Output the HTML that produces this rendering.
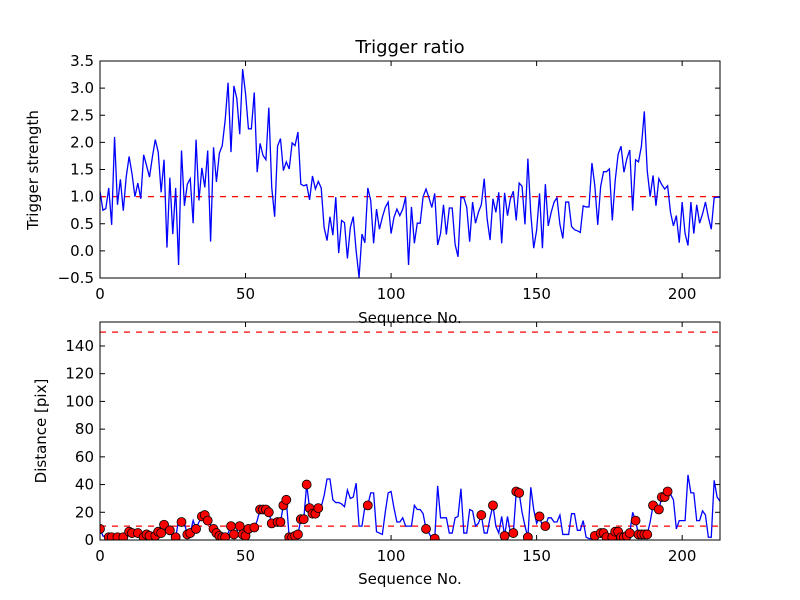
<!DOCTYPE html>
<html><head><meta charset="utf-8"><style>
body{margin:0;background:#fff}
svg{display:block;font-family:"DejaVu Sans","Liberation Sans",sans-serif}
</style></head><body>
<svg id="chart" width="800" height="600" viewBox="0 0 800 600"></svg>
<script>
const trigger = [1.1,0.75,0.78,1.16,0.48,2.1,0.85,1.32,0.74,1.36,1.74,1.42,1.0,1.25,0.96,1.77,1.57,1.36,1.73,2.05,1.82,1.08,1.68,0.06,1.35,0.31,1.16,-0.26,1.85,0.83,1.23,1.33,0.51,2.05,0.93,1.53,1.17,1.85,0.17,1.91,1.27,1.8,1.94,2.41,3.1,1.82,3.04,2.81,2.15,3.35,2.9,2.25,2.25,2.92,1.45,1.98,1.76,1.68,2.64,1.17,0.63,1.93,2.07,1.48,1.64,1.51,1.99,1.94,2.19,1.23,1.2,1.22,0.94,1.38,1.14,1.28,1.16,0.43,0.19,0.63,0.29,0.99,-0.04,0.56,0.52,-0.14,0.43,0.63,0.0,-0.49,0.31,0.15,1.16,0.93,0.14,0.77,0.4,0.62,0.8,0.9,0.32,0.62,0.77,0.65,0.77,0.99,-0.26,
0.81,0.14,0.51,0.51,1.0,1.14,0.98,0.8,1.06,0.11,0.32,0.85,0.3,0.79,0.79,0.12,-0.11,0.98,0.98,0.8,0.17,0.9,0.51,0.71,0.85,1.33,0.59,0.2,0.96,0.71,1.08,0.14,1.07,0.65,0.96,1.1,0.56,1.25,1.19,0.49,1.7,0.68,0.05,0.38,1.06,0.05,1.23,0.46,0.71,0.9,0.98,0.49,0.23,0.9,
0.9,0.45,0.39,0.37,0.34,0.83,0.81,0.81,1.62,1.2,0.48,1.19,1.46,1.46,1.51,0.56,1.3,1.78,1.93,1.45,1.7,1.86,0.74,1.68,1.64,1.93,2.57,1.48,1.0,1.39,0.83,1.33,1.22,1.14,1.2,0.71,0.46,0.65,0.15,0.9,0.32,0.1,0.9,0.32,0.85,0.51,0.68,0.9,0.62,0.4,0.98,0.99,0.99];
const distance = [8,3,2,2,2,2,2,2,2,3,6,5,4,5,3,2,4,3,2,3,6,5,11,9,7,5,2,14,13,12,4,5,14,8,13,17,18,14,11,8,5,3,2,2,5,10,4,6,10,4,3,8,9,9,14,22,22,22,20,12,13,13,13,25,29,2,2,3,4,15,15,40,23,19,19,23,24,32,44,44,29,27,27,26,24,36,30,31,41,10,10,24,25,34,34,6,5,4,20,34,35,23,13,13,16,10,10,10,25,22,22,19,8,5,1,1,39,16,16,16,5,5,16,17,37,5,5,22,21,10,12,18,5,5,16,25,10,5,17,3,17,5,5,35,34,20,10,2,38,22,12,17,10,10,16,16,13,13,18,4,4,4,19,19,7,7,14,2,1,1,3,4,5,5,2,2,2,6,6,2,2,3,5,20,14,4,4,4,4,13,25,24,22,31,31,35,33,29,8,14,14,14,47,34,34,14,14,21,18,2,2,43,31,28];
const markerIdx = [0,3,4,6,8,10,11,13,15,16,17,19,20,21,22,24,26,28,30,31,33,35,36,37,39,40,41,42,43,45,46,48,49,50,51,53,55,56,57,58,59,61,62,63,64,65,66,67,68,69,70,71,72,73,74,75,92,112,115,131,135,139,142,143,144,147,151,153,170,172,173,174,176,177,178,179,180,181,182,184,185,186,187,188,190,192,193,194,195];
const xTicks = [0,50,100,150,200];
const topYTicks = [-0.5,0,0.5,1,1.5,2,2.5,3,3.5];
const botYTicks = [0,20,40,60,80,100,120,140];
const topThreshold = [1.0];
const botThresholds = [10,150];

const NS='http://www.w3.org/2000/svg';
const svg=document.getElementById('chart');
function mk(tag,attrs,parent){const e=document.createElementNS(NS,tag);for(const k in attrs)e.setAttribute(k,attrs[k]);(parent||svg).appendChild(e);return e;}
const L=100,R=720,XMAX=213;
const xs=v=>L+(R-L)*v/XMAX;
const T={top:61,bot:278,min:-0.5,max:3.5};
const B={top:322,bot:540,min:0,max:157.3};
const ys=(a,v)=>a.bot-(a.bot-a.top)*(v-a.min)/(a.max-a.min);

function axes(a,yt,fmt,name){
  const g=mk('g',{});
  
  
  xTicks.forEach(t=>{const x=xs(t);
    mk('line',{x1:x,x2:x,y1:a.bot,y2:a.bot-5,stroke:'#000'},g);
    mk('line',{x1:x,x2:x,y1:a.top,y2:a.top+5,stroke:'#000'},g);
    const tx=mk('text',{x:x,y:a.bot+21,'text-anchor':'middle','font-size':15},g);tx.textContent=t;
    
    
  });
  yt.forEach(t=>{const y=ys(a,t);
    mk('line',{x1:L,x2:L+5,y1:y,y2:y,stroke:'#000'},g);
    mk('line',{x1:R,x2:R-5,y1:y,y2:y,stroke:'#000'},g);
    const tx=mk('text',{x:L-6,y:y+5,'text-anchor':'end','font-size':15},g);tx.textContent=fmt(t);
    
    
  });
  return g;
}
function frame(a){const r=mk('rect',{x:L,y:a.top,width:R-L,height:a.bot-a.top,fill:'none',stroke:'#000','stroke-width':1});
  
  }

const cp1=mk('clipPath',{id:'c1'});mk('rect',{x:L,y:T.top,width:R-L,height:T.bot-T.top},cp1);
axes(T,topYTicks,t=>t<0?'\u22120.5':t.toFixed(1),'top-axes');
topThreshold.forEach(v=>{const l=mk('line',{x1:L,x2:R,y1:ys(T,v),y2:ys(T,v),stroke:'#f00','stroke-width':1.3,'stroke-dasharray':'6,6'});
  
  });
const p1=mk('polyline',{points:trigger.map((v,i)=>xs(i)+','+ys(T,v)).join(' '),fill:'none',stroke:'#00f','stroke-width':1.3,'clip-path':'url(#c1)'});


frame(T);

const cp2=mk('clipPath',{id:'c2'});mk('rect',{x:L,y:B.top,width:R-L,height:B.bot-B.top},cp2);
axes(B,botYTicks,t=>String(t),'bottom-axes');
botThresholds.forEach(v=>{const l=mk('line',{x1:L,x2:R,y1:ys(B,v),y2:ys(B,v),stroke:'#f00','stroke-width':1.3,'stroke-dasharray':'6,6'});
  
  });
const p2=mk('polyline',{points:distance.map((v,i)=>xs(i)+','+ys(B,v)).join(' '),fill:'none',stroke:'#00f','stroke-width':1.3,'clip-path':'url(#c2)'});


markerIdx.forEach(i=>{const c=mk('circle',{cx:xs(i),cy:ys(B,distance[i]),r:4.5,fill:'#f00',stroke:'#000','stroke-width':0.8,'clip-path':'url(#c2)'});
  
  });
frame(B);
</script>
<script>
(function(){
const NS='http://www.w3.org/2000/svg',svg=document.getElementById('chart');
function t(x,y,s,size,name,rot){const e=document.createElementNS(NS,'text');e.setAttribute('x',x);e.setAttribute('y',y);e.setAttribute('font-size',size);e.setAttribute('text-anchor','middle');if(rot)e.setAttribute('transform','rotate(-90 '+x+' '+y+')');e.textContent=s;


svg.appendChild(e);}
t(410,53,'Trigger ratio',18,'chart-title');
t(410,323,'Sequence No.',15,'top-x-axis-title');
t(410,584,'Sequence No.',15,'bottom-x-axis-title');
t(38,170,'Trigger strength',15,'top-y-axis-title',true);
t(46,431,'Distance [pix]',15,'bottom-y-axis-title',true);
})();
</script>
</body></html>
